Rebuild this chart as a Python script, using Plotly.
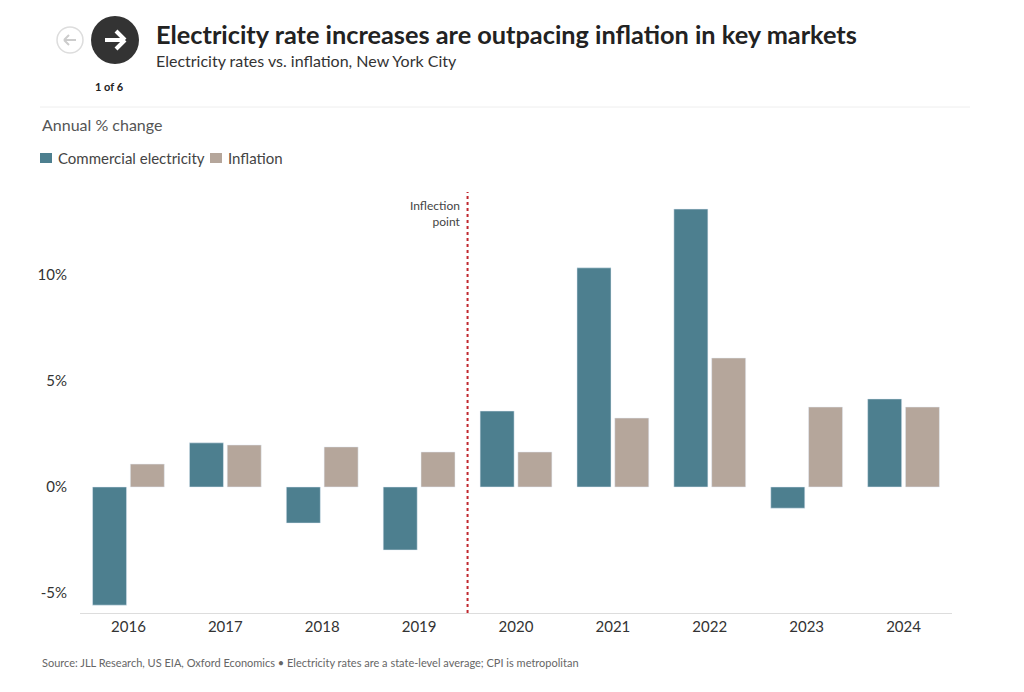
import plotly.graph_objects as go

years = ["2016", "2017", "2018", "2019", "2020", "2021", "2022", "2023", "2024"]
electricity = [-5.57, 2.08, -1.7, -2.97, 3.58, 10.33, 13.1, -1.0, 4.15]
inflation = [1.08, 1.98, 1.89, 1.65, 1.65, 3.25, 6.08, 3.77, 3.77]
y_ticks = [-5, 0, 5, 10]
y_labels = ["-5%", "0%", "5%", "10%"]

# page has an 8px body margin, so work in page pixels minus 8
OFF = 8
W, H = 1024 - 2 * OFF, 692 - 2 * OFF
L, R, T, B = 80 - OFF, 72 - OFF, 190 - OFF, 79 - OFF
TEAL, TAUPE = "#4d7f8f", "#b5a69b"


def px(x):
    return (x - OFF - L) / (W - L - R)


def py(y):
    return (H - B - (y - OFF)) / (H - T - B)


fig = go.Figure()
fig.add_trace(go.Bar(x=years, y=electricity, name="Commercial electricity",
                     marker_color=TEAL))
fig.add_trace(go.Bar(x=years, y=inflation, name="Inflation",
                     marker_color=TAUPE))

font = "Source Sans Pro, Lato, Noto Sans, sans-serif"


def pbox(x0, y0, x1, y1):
    return dict(xref="paper", yref="paper", x0=px(x0), x1=px(x1),
                y0=py(y1), y1=py(y0))


def line(xa, ya, xb, yb, color, width):
    return dict(type="line", xref="paper", yref="paper", x0=px(xa), y0=py(ya),
                x1=px(xb), y1=py(yb), line=dict(color=color, width=width))


shapes = [
    dict(type="line", xref="x", yref="paper", x0=3.5, x1=3.5, y0=0, y1=py(192),
         line=dict(color="#c0272d", width=2, dash="dot")),
    line(40, 107, 970, 107, "#eeeeee", 1),
    dict(type="circle", line=dict(color="#dddddd", width=1.5),
         fillcolor="white", **pbox(57, 27, 83, 53)),
    dict(type="circle", line=dict(width=0), fillcolor="#333333",
         **pbox(91, 16, 139, 64)),
    # left arrow
    line(64, 40, 76, 40, "#cccccc", 2),
    line(64, 40, 69, 35, "#cccccc", 2),
    line(64, 40, 69, 45, "#cccccc", 2),
    # right arrow
    line(105, 40, 124, 40, "white", 4),
    line(125, 40, 116, 31, "white", 4),
    line(125, 40, 116, 49, "white", 4),
    # legend swatches
    dict(type="rect", line=dict(width=0), fillcolor=TEAL, **pbox(40, 153, 52, 163)),
    dict(type="rect", line=dict(width=0), fillcolor=TAUPE, **pbox(210, 153, 222, 163)),
]

annotations = [
    dict(text="Inflection<br>point", x=3.45, xref="x", y=py(196), yref="paper",
         xanchor="right", yanchor="top", showarrow=False, align="right",
         font=dict(size=12, color="#444")),
    dict(text="<b>Electricity rate increases are outpacing inflation in key markets</b>",
         x=px(154), y=py(34), xref="paper", yref="paper", xanchor="left",
         yanchor="middle", showarrow=False, font=dict(size=25.3, color="#222")),
    dict(text="Electricity rates vs. inflation, New York City",
         x=px(154), y=py(61), xref="paper", yref="paper", xanchor="left",
         yanchor="middle", showarrow=False, font=dict(size=16, color="#333")),
    dict(text="Annual % change", x=px(40), y=py(125), xref="paper", yref="paper",
         xanchor="left", yanchor="middle", showarrow=False,
         font=dict(size=16, color="#555")),
    dict(text="Commercial electricity", x=px(56), y=py(158), xref="paper",
         yref="paper", xanchor="left", yanchor="middle", showarrow=False,
         font=dict(size=15, color="#444")),
    dict(text="Inflation", x=px(226), y=py(158), xref="paper",
         yref="paper", xanchor="left", yanchor="middle", showarrow=False,
         font=dict(size=15, color="#444")),
    dict(text="<b>1 of 6</b>", x=px(93), y=py(78), xref="paper", yref="paper",
         showarrow=False, font=dict(size=11, color="#222")),
    dict(text="Source: JLL Research, US EIA, Oxford Economics • Electricity rates are a state-level average; CPI is metropolitan",
         x=px(40), y=py(662), xref="paper", yref="paper", xanchor="left",
         yanchor="middle", showarrow=False, font=dict(size=11, color="#666")),
]

fig.update_layout(
    width=W, height=H, margin=dict(l=L, r=R, t=T, b=B),
    plot_bgcolor="white", paper_bgcolor="white",
    font=dict(family=font, size=14, color="#444"),
    barmode="group", bargap=0.22, bargroupgap=0.1,
    shapes=shapes, annotations=annotations, showlegend=False,
    xaxis=dict(showgrid=False, showline=True, linecolor="#dddddd",
               ticks="", tickfont=dict(size=15, color="#333")),
    yaxis=dict(range=[-5.94, 14.0], tickvals=y_ticks, ticktext=y_labels,
               showgrid=False, zeroline=False, ticks="",
               tickfont=dict(size=15, color="#333"), ticklabelstandoff=12),
)

fig.write_html("out.html")
